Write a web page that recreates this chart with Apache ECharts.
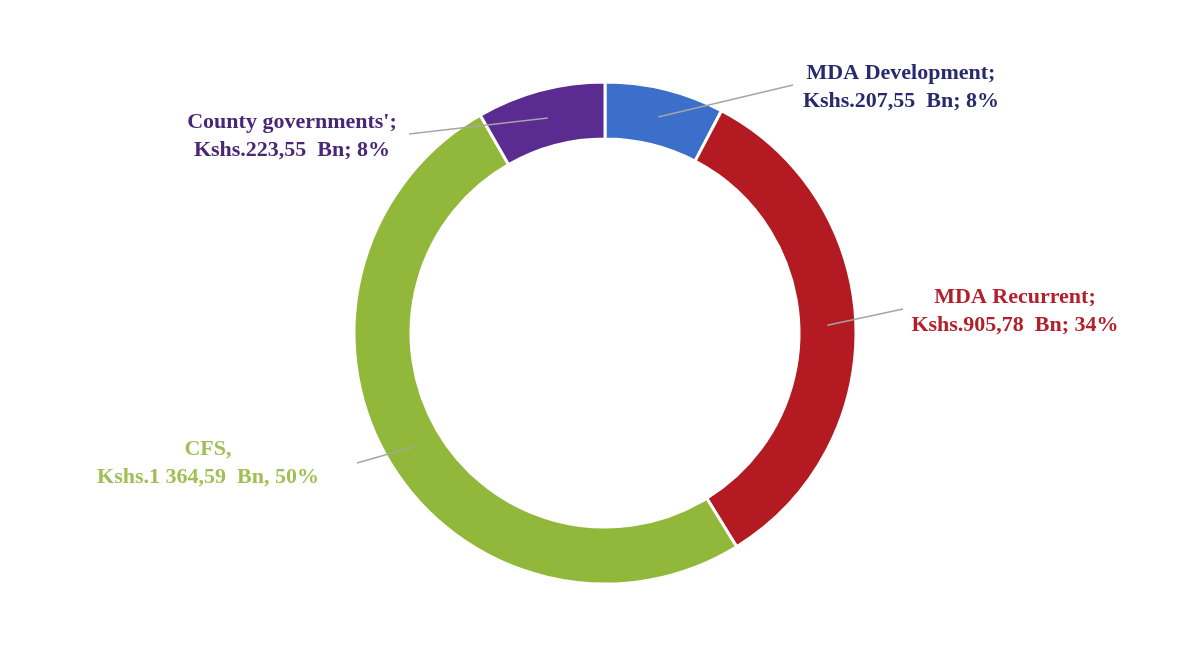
<!DOCTYPE html>
<html>
<head>
<meta charset="utf-8">
<script src="https://cdn.jsdelivr.net/npm/echarts@6/dist/echarts.min.js"></script>
<style>
html,body{margin:0;padding:0;background:#fff;}
#chart{width:1190px;height:649px;}
</style>
</head>
<body>
<div id="chart"></div>
<script>
const categories = ["MDA Development", "MDA Recurrent", "CFS", "County governments'"];
const values = [207.55, 905.78, 1364.59, 223.55];
const valueLabels = ["207,55", "905,78", "1 364,59", "223,55"];
const percentLabels = ["8%", "34%", "50%", "8%"];
const separators = [";", ";", ",", ";"];

const sliceColors = ["#3b6fca", "#b41a21", "#92b83b", "#5a2b91"];
const textColors = ["#272a6c", "#b2202b", "#a0c055", "#4a2676"];
// label anchor placement (layout only)
const labelPos = [
  {x: 901, y: 87, lineEnd: [[793, 85]]},
  {x: 1015, y: 311, lineEnd: [[903, 309]]},
  {x: 208, y: 463, lineEnd: [[378, 457], [357, 463]]},
  {x: 292, y: 136, lineEnd: [[409, 134]]}
];

const CX = 605, CY = 333, R_OUT = 251, R_IN = 194;

const chart = echarts.init(document.getElementById('chart'), null, {renderer: 'canvas'});

const ringData = categories.map((c, i) => ({
  name: c,
  value: values[i],
  itemStyle: {color: sliceColors[i]}
}));

const labelData = categories.map((c, i) => ({
  name: c,
  value: values[i],
  label: {
    color: textColors[i],
    formatter: c + separators[i] + '\nKshs.' + valueLabels[i] + '  Bn' + separators[i] + ' ' + percentLabels[i]
  }
}));

chart.setOption({
  animation: false,
  backgroundColor: '#ffffff',
  series: [{
    type: 'pie',
    z: 2,
    center: [CX, CY],
    radius: [R_IN, R_OUT],
    startAngle: 90,
    clockwise: true,
    silent: true,
    itemStyle: {borderColor: '#ffffff', borderWidth: 3},
    label: {show: false},
    labelLine: {show: false},
    data: ringData
  }, {
    type: 'pie',
    z: 5,
    center: [CX, CY],
    radius: [R_IN, R_OUT],
    startAngle: 90,
    clockwise: true,
    silent: true,
    avoidLabelOverlap: false,
    itemStyle: {color: 'rgba(0,0,0,0)', borderWidth: 0},
    label: {
      show: true,
      position: 'outside',
      fontFamily: 'Liberation Serif, serif',
      fontWeight: 'bold',
      fontSize: 22,
      lineHeight: 28,
      align: 'center'
    },
    labelLine: {show: true, showAbove: true, lineStyle: {color: '#a5a5a5', width: 1.5}},
    labelLayout: function (params) {
      const i = params.dataIndex;
      const p = labelPos[i];
      const pts = params.labelLinePoints;
      let start = [CX, CY];
      if (pts && pts.length) {
        const dx = pts[0][0] - CX, dy = pts[0][1] - CY;
        const d = Math.sqrt(dx * dx + dy * dy) || 1;
        const rm = (R_IN + R_OUT) / 2;
        start = [CX + dx / d * rm, CY + dy / d * rm];
      }
      const linePts = [start].concat(p.lineEnd);
      while (linePts.length < 3) linePts.push(linePts[linePts.length - 1]);
      return {
        x: p.x,
        y: p.y,
        align: 'center',
        verticalAlign: 'middle',
        labelLinePoints: linePts
      };
    },
    data: labelData
  }]
});
</script>
</body>
</html>
